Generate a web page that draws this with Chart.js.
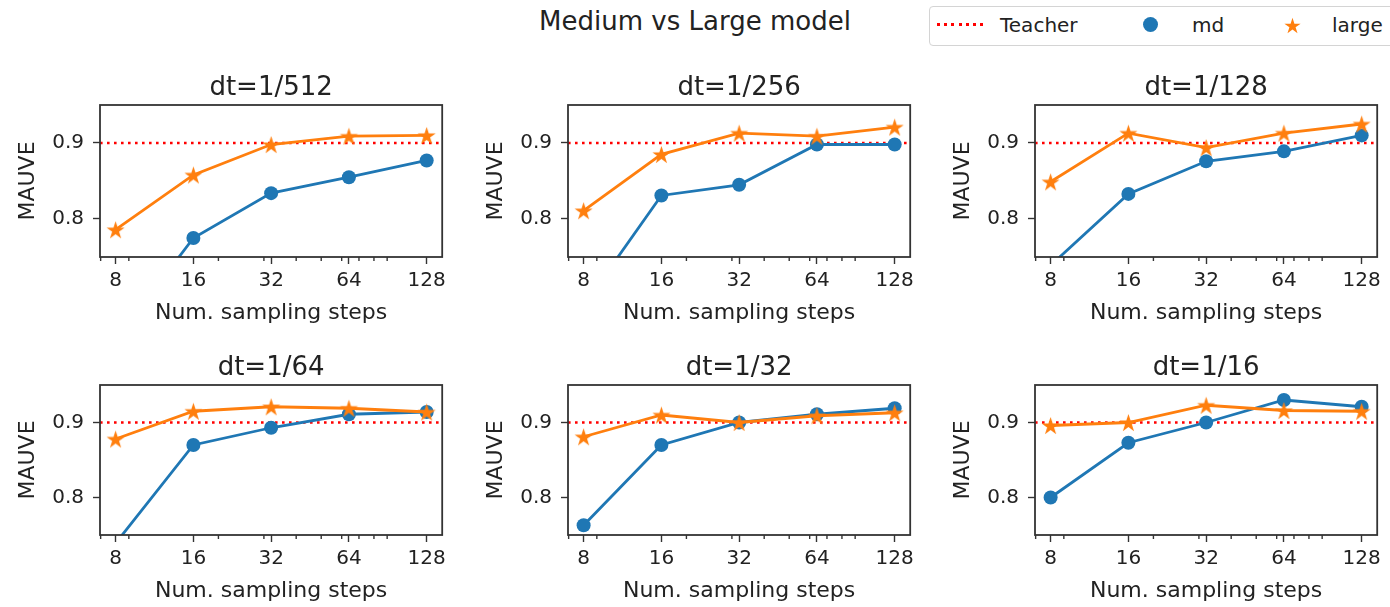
<!DOCTYPE html>
<html>
<head>
<meta charset="utf-8">
<script src="https://cdn.jsdelivr.net/npm/chart.js@4.4.0/dist/chart.umd.min.js"></script>
<style>
  html, body { margin: 0; padding: 0; background: #fff; width: 1390px; height: 607px; overflow: hidden;
    font-family: "DejaVu Sans", sans-serif; color: #222; }
  .panel { position: absolute; }
  #suptitle { position: absolute; left: 395px; width: 600px; top: 8px; text-align: center;
    font-size: 26px; line-height: 26px; }
  #legend { position: absolute; left: 929px; top: 6px; width: 520px; height: 38px;
    border: 1px solid #d4d4d4; border-radius: 4px; background: #fff; }
  .leg-text { position: absolute; font-size: 20px; line-height: 20px; top: 15px; }
</style>
</head>
<body>
<div id="suptitle">Medium vs Large model</div>
<div id="legend"></div>
<div class="leg-text" style="left:1000px">Teacher</div>
<div class="leg-text" style="left:1192px">md</div>
<div class="leg-text" style="left:1332px">large</div>

<script>
// x values (sampling steps) and axis ticks
const steps = [8, 16, 32, 64, 128];
const minorSteps = [7, 9, 20, 30, 40, 50, 60, 70, 80, 90];
const yTicks = [0.8, 0.9];
const teacherScore = 0.9;

// MAUVE per panel
const md_512 = [0.640, 0.775, 0.834, 0.855, 0.877];
const large_512 = [0.786, 0.858, 0.898, 0.909, 0.910];
const md_256 = [0.686, 0.831, 0.845, 0.898, 0.898];
const large_256 = [0.811, 0.885, 0.913, 0.909, 0.921];
const md_128 = [0.739, 0.833, 0.876, 0.889, 0.910];
const large_128 = [0.849, 0.913, 0.894, 0.913, 0.925];
const md_64 = [0.739, 0.870, 0.893, 0.911, 0.914];
const large_64 = [0.878, 0.915, 0.921, 0.919, 0.914];
const md_32 = [0.763, 0.870, 0.900, 0.911, 0.919];
const large_32 = [0.881, 0.910, 0.900, 0.909, 0.913];
const md_16 = [0.800, 0.873, 0.900, 0.930, 0.921];
const large_16 = [0.896, 0.900, 0.923, 0.916, 0.915];

const panelTitles = ['dt=1/512', 'dt=1/256', 'dt=1/128', 'dt=1/64', 'dt=1/32', 'dt=1/16'];
const mdSeries = [md_512, md_256, md_128, md_64, md_32, md_16];
const largeSeries = [large_512, large_256, large_128, large_64, large_32, large_16];

const BLUE = '#1f77b4';
const ORANGE = '#ff7f0e';
const FONT = '"DejaVu Sans", sans-serif';
const TEXT = '#222';

// filled 5-point star like matplotlib's '*'
function makeStar(r, color) {
  const c = document.createElement('canvas');
  const s = Math.ceil(r * 2 + 2);
  c.width = s; c.height = s;
  const ctx = c.getContext('2d');
  ctx.translate(s / 2, s / 2 + r * 0.1);
  ctx.beginPath();
  for (let i = 0; i < 10; i++) {
    const rad = i % 2 === 0 ? r : r * 0.382;
    const a = -Math.PI / 2 + i * Math.PI / 5;
    ctx.lineTo(rad * Math.cos(a), rad * Math.sin(a));
  }
  ctx.closePath();
  ctx.fillStyle = color;
  ctx.fill();
  return c;
}
const starImg = makeStar(9.5, ORANGE);

// frame on all four sides, short minor ticks on x, title centred on the axes
const framePlugin = {
  id: 'frame',
  afterDraw(chart, args, opts) {
    const { ctx, chartArea: a } = chart;
    const x = chart.scales.x;
    ctx.save();
    ctx.strokeStyle = '#333';
    ctx.lineWidth = 1.4;
    minorSteps.forEach(v => {
      const px = x.getPixelForValue(v);
      if (px < a.left - 1 || px > a.right + 1) return;
      ctx.beginPath();
      ctx.moveTo(px, a.bottom);
      ctx.lineTo(px, a.bottom + 4);
      ctx.stroke();
    });
    ctx.lineWidth = 1.8;
    ctx.strokeRect(a.left, a.top, a.right - a.left, a.bottom - a.top);
    ctx.fillStyle = TEXT;
    ctx.font = '26px ' + FONT;
    ctx.textAlign = 'center';
    ctx.textBaseline = 'alphabetic';
    ctx.fillText(opts.text, (a.left + a.right) / 2, a.top - 10);
    ctx.restore();
  }
};

const colLeft = [100, 568, 1035];
const rowTop = [105, 385];
const rowHeight = [152, 150];
const plotW = 344;
const LEFT_GAP = 100, TOP_GAP = 50, BOTTOM_GAP = 70, RIGHT_GAP = 10;

panelTitles.forEach((title, p) => {
  const col = p % 3, row = Math.floor(p / 3);
  const div = document.createElement('div');
  div.className = 'panel';
  const w = LEFT_GAP + plotW + RIGHT_GAP;
  const h = TOP_GAP + rowHeight[row] + BOTTOM_GAP;
  div.style.left = (colLeft[col] - LEFT_GAP) + 'px';
  div.style.top = (rowTop[row] - TOP_GAP) + 'px';
  const canvas = document.createElement('canvas');
  canvas.width = w; canvas.height = h;
  div.appendChild(canvas);
  document.body.appendChild(div);

  const toXY = vals => steps.map((s, i) => ({ x: s, y: vals[i] }));

  new Chart(canvas, {
    type: 'line',
    data: {
      datasets: [
        {
          label: 'large',
          data: toXY(largeSeries[p]),
          borderColor: ORANGE,
          backgroundColor: ORANGE,
          borderWidth: 2.8,
          pointStyle: starImg,
          pointRadius: 9,
          clip: 0
        },
        {
          label: 'md',
          data: toXY(mdSeries[p]),
          borderColor: BLUE,
          backgroundColor: BLUE,
          borderWidth: 2.8,
          pointStyle: 'circle',
          pointRadius: 7,
          pointBorderWidth: 0,
          clip: 0
        },
        {
          label: 'Teacher',
          data: [{ x: 6.96, y: teacherScore }, { x: 147, y: teacherScore }],
          borderColor: '#ff0000',
          borderWidth: 2.6,
          borderDash: [2.6, 4.4],
          pointRadius: 0,
          clip: 0
        }
      ]
    },
    options: {
      responsive: false,
      animation: false,
      layout: { padding: { top: TOP_GAP, right: RIGHT_GAP, bottom: 0, left: 0 } },
      plugins: {
        legend: { display: false },
        tooltip: { enabled: false },
        title: { display: false },
        frame: { text: title }
      },
      scales: {
        x: {
          type: 'logarithmic',
          min: 6.96,
          max: 147,
          afterBuildTicks: s => { s.ticks = steps.map(v => ({ value: v })); },
          afterFit: s => { s.height = BOTTOM_GAP; },
          ticks: {
            autoSkip: false,
            maxRotation: 0,
            padding: 5,
            color: TEXT,
            font: { family: FONT, size: 20 },
            callback: v => String(v)
          },
          grid: { drawOnChartArea: false, drawTicks: true, tickLength: 7, tickColor: '#333', tickWidth: 1.4 },
          border: { display: false },
          title: {
            display: true,
            text: 'Num. sampling steps',
            color: TEXT,
            font: { family: FONT, size: 22 },
            padding: { top: 0, bottom: 1 }
          }
        },
        y: {
          type: 'linear',
          min: 0.75,
          max: 0.95,
          afterBuildTicks: s => { s.ticks = yTicks.map(v => ({ value: v })); },
          afterFit: s => { s.width = LEFT_GAP; },
          ticks: {
            padding: 9,
            color: TEXT,
            font: { family: FONT, size: 20 },
            callback: v => v.toFixed(1)
          },
          grid: { drawOnChartArea: false, drawTicks: true, tickLength: 7, tickColor: '#333', tickWidth: 1.4 },
          border: { display: false },
          title: {
            display: true,
            text: 'MAUVE',
            color: TEXT,
            font: { family: FONT, size: 22 },
            padding: { top: 15, bottom: 0 }
          }
        }
      }
    },
    plugins: [framePlugin]
  });
});

// legend swatches
const legend = document.body;
const dots = document.createElement('div');
dots.style.cssText = 'position:absolute;left:937px;top:23px;width:47px;height:3px;' +
  'background:repeating-linear-gradient(to right,#ff0000 0 3px,transparent 3px 7.2px);';
legend.appendChild(dots);
const circ = document.createElement('div');
circ.style.cssText = 'position:absolute;left:1143px;top:17px;width:15px;height:15px;border-radius:50%;background:' + BLUE + ';';
legend.appendChild(circ);
const star = makeStar(8.5, ORANGE);
star.style.cssText = 'position:absolute;left:' + (1292 - star.width / 2) + 'px;top:' + (25 - star.height / 2) + 'px;';
legend.appendChild(star);
</script>
</body>
</html>
